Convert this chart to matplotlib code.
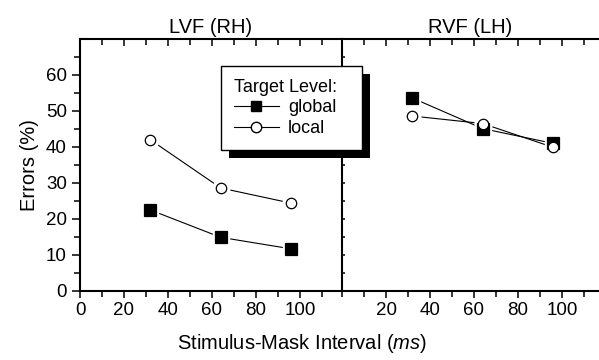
import matplotlib
matplotlib.use("Agg")
import matplotlib.pyplot as plt
from matplotlib.lines import Line2D
from matplotlib.patches import Rectangle
from matplotlib.ticker import MultipleLocator, FixedLocator

plt.rcParams['font.family'] = ['Liberation Sans', 'DejaVu Sans']
plt.rcParams['mathtext.fontset'] = 'custom'
plt.rcParams['mathtext.rm'] = 'Liberation Sans'
plt.rcParams['mathtext.it'] = 'Liberation Sans:italic'

# data
intervals = [32, 64, 96]
lvf_global = [22.5, 14.9, 11.7]
lvf_local = [42.0, 28.6, 24.4]
rvf_global = [53.6, 45.1, 41.0]
rvf_local = [48.6, 46.5, 39.9]
panel_titles = ['LVF (RH)', 'RVF (LH)']

fig = plt.figure(figsize=(5.99, 3.6), dpi=100)
ax1 = fig.add_axes([80 / 599, 0.1917, 262 / 599, 0.7])
ax2 = fig.add_axes([342 / 599, 0.1917, 257 / 599, 0.7])
ax2.patch.set_alpha(0)  # don't hide the shared middle spine


def draw_series(ax, x, y, marker, face):
    ax.plot(x, y, color='black', lw=0.8, zorder=2)
    # white halo so the line stops short of the marker
    ax.plot(x, y, ls='none', marker=marker, ms=12, mfc='white', mec='white', zorder=3)
    ax.plot(x, y, ls='none', marker=marker, ms=8 if marker == 's' else 7.5,
            mfc=face, mec='black', mew=0.9, zorder=4)


draw_series(ax1, intervals, lvf_local, 'o', 'white')
draw_series(ax1, intervals, lvf_global, 's', 'black')
draw_series(ax2, intervals, rvf_global, 's', 'black')
draw_series(ax2, intervals, rvf_local, 'o', 'white')

for ax, title in zip([ax1, ax2], panel_titles):
    ax.set_ylim(0, 70)
    ax.set_title(title, fontsize=14.5, pad=4)
    ax.xaxis.set_major_locator(MultipleLocator(20))
    ax.xaxis.set_minor_locator(MultipleLocator(10))
    ax.yaxis.set_major_locator(FixedLocator([0, 10, 20, 30, 40, 50, 60]))
    ax.yaxis.set_minor_locator(FixedLocator([5, 15, 25, 35, 45, 55, 65]))
    ax.tick_params(axis='x', which='both', bottom=True, top=True, labelsize=13.5, pad=3)
    ax.tick_params(axis='x', which='major', length=5, width=1.1)
    ax.tick_params(axis='x', which='minor', length=4, width=1.1)
    ax.tick_params(axis='x', which='both', direction='out')
    for sp in ax.spines.values():
        sp.set_linewidth(1.5)

ax1.set_xlim(0, 262 / 2.2)
ax2.set_xlim(0, 257 / 2.2)

# top ticks point inward
for ax in [ax1, ax2]:
    for t in ax.xaxis.get_major_ticks() + ax.xaxis.get_minor_ticks():
        t.tick2line.set_marker(3)

ax1.yaxis.set_ticks_position('both')
ax1.tick_params(axis='y', which='major', left=True, right=True, length=6, width=1.1, labelsize=13.5)
ax1.tick_params(axis='y', which='minor', left=True, right=True, length=4, width=1.1)
ax1.tick_params(axis='y', which='both', direction='out')
for t in ax1.yaxis.get_major_ticks() + ax1.yaxis.get_minor_ticks():
    t.tick2line.set_markersize(2)

ax2.set_xticks([20, 40, 60, 80, 100])
ax2.yaxis.set_visible(False)
ax2.spines['left'].set_visible(False)
ax2.spines['right'].set_visible(False)

ax1.set_ylabel('Errors (%)', fontsize=14.5, labelpad=5)
fig.text(0.505, 0.03, r'Stimulus-Mask Interval ($\mathit{ms}$)', ha='center', fontsize=14.5)

handles = [
    Line2D([], [], color='black', lw=0.8, marker='s', ms=7.5, mfc='black', mec='black'),
    Line2D([], [], color='black', lw=0.8, marker='o', ms=7.5, mfc='white', mec='black'),
]
leg = fig.legend(handles, ['global', 'local'], title='Target Level:',
                 loc='upper left',
                 bbox_to_anchor=(221 / 599, 1 - 148 / 360, 141 / 599, 82 / 360),
                 mode='expand', borderaxespad=0, fontsize=13, title_fontsize=13,
                 fancybox=False, edgecolor='black', framealpha=1,
                 handlelength=2.5, handletextpad=0.5, labelspacing=0.2,
                 borderpad=0.7, alignment='left')
leg.get_frame().set_linewidth(1.0)
leg.set_zorder(10)

fig.canvas.draw()
bb = leg.get_window_extent()
inv = fig.transFigure.inverted()
(x0, y0), (x1, y1) = inv.transform([[bb.x0 + 8, bb.y0 - 8], [bb.x1 + 8, bb.y1 - 8]])
fig.patches.append(Rectangle((x0, y0), x1 - x0, y1 - y0, transform=fig.transFigure,
                             facecolor='black', edgecolor='none', zorder=9, figure=fig))

fig.savefig('out.png', dpi=100)
